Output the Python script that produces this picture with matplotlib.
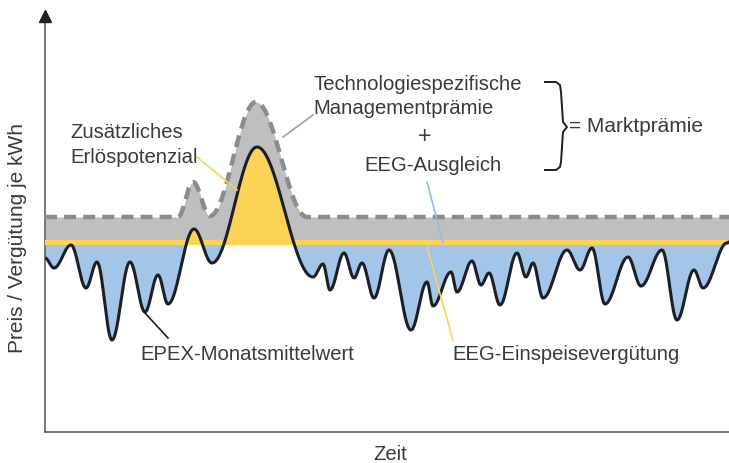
import numpy as np
import matplotlib
matplotlib.use("Agg")
import matplotlib.pyplot as plt

# EPEX monthly mean: turning points of the schematic curve (time, price)
epex_t = [0, 9, 26, 41, 52, 67, 85, 100, 113, 123, 149, 167, 212, 268, 278, 285, 299, 309,
          317, 329, 344, 366, 382, 388, 406, 412, 427, 436, 444, 455, 472, 481, 488, 498,
          522, 535, 547, 560, 583, 596, 617, 632, 649, 658, 682, 684]
epex_v = [174, 164, 187, 144, 170, 92, 170, 120, 157, 128, 203, 169, 285, 155, 168, 142, 179, 154,
          169, 134, 182, 102, 150, 126, 160, 140, 171, 147, 159, 127, 179, 155, 169, 134,
          182, 162, 184, 128, 175, 146, 182, 112, 162, 144, 189, 190]

# feed-in + management premium + EEG compensation (dashed line turning points)
premium_t = [0, 133, 148, 165, 211, 262, 684]
premium_v = [215, 215, 250, 216, 330, 215, 215]

feed_in = 189.5          # EEG-Einspeisevergütung

x_max, y_max = 684, 420


def smooth(tx, vx, t):
    # half-cosine pieces between turning points
    tp = np.array(tx, float)
    vp = np.array(vx, float)
    i = np.clip(np.searchsorted(tp, t, side="right") - 1, 0, len(tp) - 2)
    u = np.clip((t - tp[i]) / (tp[i + 1] - tp[i]), 0, 1)
    return vp[i] + (vp[i + 1] - vp[i]) * (1 - np.cos(np.pi * u)) / 2


t = np.linspace(0, x_max, 3000)
price = smooth(epex_t, epex_v, t)
premium = smooth(premium_t, premium_v, t)

plt.rcParams["font.family"] = ["Liberation Sans", "DejaVu Sans"]
txt = "#3a3a3a"
gray_fill = "#bfbfbf"
gray_line = "#8c8c8c"
blue = "#a2c5e8"
yellow = "#fcd257"
dark = "#1c1f26"

fig = plt.figure(figsize=(7.29, 4.63), dpi=100)
ax = fig.add_axes([45 / 729, 31 / 463, 684 / 729, 420 / 463])
ax.set_xlim(0, x_max)
ax.set_ylim(0, y_max)

ax.fill_between(t, feed_in, premium, color=gray_fill, lw=0, zorder=1)
ax.fill_between(t, price, feed_in, where=price < feed_in, interpolate=True, color=blue, lw=0, zorder=2)
ax.fill_between(t, feed_in, price, where=price > feed_in, interpolate=True, color=yellow, lw=0, zorder=2)
ax.axhline(feed_in, color=yellow, lw=3.6, zorder=3)
ax.plot(t, price, color=dark, lw=2.2, zorder=4, solid_capstyle="round")
ax.plot(t, premium, color=gray_line, lw=3.2, dashes=(2.7, 1.6), zorder=4)

# spines / axis arrow
for s in ["top", "right"]:
    ax.spines[s].set_visible(False)
for s in ["left", "bottom"]:
    ax.spines[s].set_color("#555555")
    ax.spines[s].set_linewidth(1.1)
ax.set_xticks([])
ax.set_yticks([])
ax.plot([0], [y_max - 4], marker="^", ms=9, color="#222222", clip_on=False, zorder=6)

# leader lines
ax.plot([152, 192], [275, 242], color=yellow, lw=1.2, zorder=5)
ax.plot([268, 238], [317, 295], color="#9aa0a4", lw=1.2, zorder=5)
ax.plot([382, 398], [250, 189], color="#8fbde6", lw=1.2, zorder=5)
ax.plot([382, 408], [185, 92], color=yellow, lw=1.2, zorder=5)
ax.plot([100, 123], [119, 94], color=dark, lw=1.2, zorder=5)

# curly bracket
bx = [500, 511, 515, 516, 518, 522, 518, 516, 515, 511, 500]
by = [350, 350, 347, 340, 310, 305, 300, 270, 265, 262, 262]
ax.plot(bx, by, color=dark, lw=1.4, solid_joinstyle="round", clip_on=False)

fs = 14.6
ax.text(25, 287, "Zusätzliches\nErlöspotenzial", fontsize=fs, color=txt, ha="left", va="center",
        linespacing=1.35)
ax.text(268, 335.5, "Technologiespezifische\nManagementprämie", fontsize=fs, color=txt,
        ha="left", va="center", linespacing=1.3)
ax.text(380, 295, "+", fontsize=fs + 2, color=txt, ha="center", va="center")
ax.text(388, 266, "EEG-Ausgleich", fontsize=fs, color=txt, ha="center", va="center")
ax.text(524, 305, "= Marktprämie", fontsize=15, color=txt, ha="left", va="center")
ax.text(95, 77, "EPEX-Monatsmittelwert", fontsize=fs, color=txt, ha="left", va="center")
ax.text(407, 77, "EEG-Einspeisevergütung", fontsize=fs, color=txt, ha="left", va="center")
ax.text(345, -23, "Zeit", fontsize=fs, color=txt, ha="center", va="center", clip_on=False)
ax.text(-27, 194, "Preis / Vergütung je kWh", fontsize=15, color=txt, ha="center",
        va="center", rotation=90, clip_on=False)

fig.savefig("out.png", dpi=100)
